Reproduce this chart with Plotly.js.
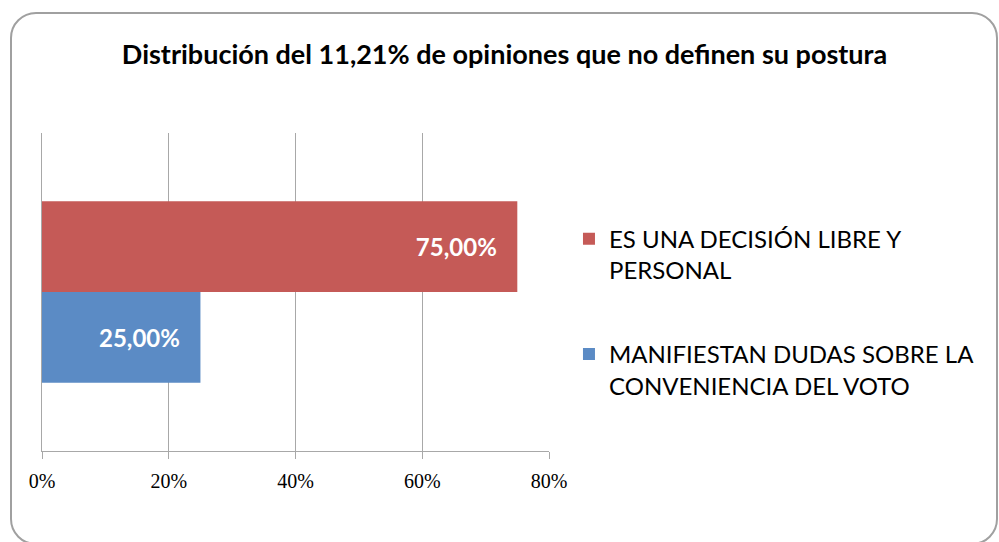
<!DOCTYPE html>
<html>
<head>
<meta charset="utf-8">
<script src="https://cdn.plot.ly/plotly-3.0.1.min.js"></script>
<style>
  html, body { margin: 0; padding: 0; background: #fff; overflow: hidden; }
  #marco {
    position: absolute; left: 10px; top: 12px;
    width: 988px; height: 533px; box-sizing: border-box;
    border: 2px solid #a0a0a0; border-radius: 26px;
    pointer-events: none;
  }
  #grafico { position: absolute; left: 0; top: 0; width: 999px; height: 542px; }
</style>
</head>
<body>
<div id="grafico"></div>
<div id="marco"></div>
<script>
/* ===== datos ===== */
const titulo = "Distribución del 11,21% de opiniones que no definen su postura";
const categoria = ["opiniones"];
const nombresSerie = [
  "MANIFIESTAN DUDAS SOBRE LA<br>CONVENIENCIA DEL VOTO",
  "ES UNA DECISIÓN LIBRE Y<br>PERSONAL"
];
const valores = [0.25, 0.75];
const colores = ["#5b8bc5", "#c55a57"];
const ticksX = [0, 0.2, 0.4, 0.6, 0.8];

const gris = "#a8a8a8";

// la leyenda va al revés que las barras (rojo arriba)
const trazas = nombresSerie.map((nombre, i) => ({
  type: "bar",
  orientation: "h",
  name: nombre,
  legendgroup: "g" + i,
  legendrank: nombresSerie.length - i,
  y: categoria,
  x: [valores[i]],
  marker: { color: colores[i] },
  texttemplate: "%{x:.2%}\u00a0\u00a0\u00a0",
  textposition: "inside",
  insidetextanchor: "end",
  textangle: 0,
  insidetextfont: { family: "Lato", size: 24, color: "#ffffff", weight: "bold" },
  hoverinfo: "skip"
}));

const layout = {
  width: 999,
  height: 542,
  separators: ",.",
  paper_bgcolor: "rgba(0,0,0,0)",
  plot_bgcolor: "rgba(0,0,0,0)",
  margin: { l: 42, r: 450, t: 133, b: 91 },
  barmode: "group",
  bargap: 0.43,
  bargroupgap: 0,
  title: {
    text: "<b>" + titulo + "</b>",
    font: { family: "Lato", size: 27, color: "#000" },
    xref: "container", x: 0.505, xanchor: "center",
    yref: "container", y: 1 - 55 / 542, yanchor: "middle"
  },
  xaxis: {
    range: [0, 0.8],
    tickvals: ticksX,
    tickformat: ".0%",
    showgrid: true, gridcolor: gris, gridwidth: 1,
    zeroline: false,
    showline: true, linecolor: gris, linewidth: 1,
    ticks: "outside", ticklen: 7, tickcolor: gris,
    ticklabelstandoff: 5,
    tickfont: { family: "Liberation Serif", size: 20, color: "#000" }
  },
  yaxis: {
    type: "category",
    showticklabels: false,
    showgrid: false, zeroline: false,
    showline: true, linecolor: gris, linewidth: 1,
    ticks: ""
  },
  showlegend: true,
  legend: {
    x: 1.0394, xref: "paper", xanchor: "left",
    y: 0.437, yanchor: "middle",
    traceorder: "grouped",
    tracegroupgap: 50,
    valign: "top",
    itemclick: false,
    font: { family: "Lato", size: 24, color: "#000" }
  }
};

Plotly.newPlot("grafico", trazas, layout, { displayModeBar: false, staticPlot: true });
</script>
</body>
</html>
